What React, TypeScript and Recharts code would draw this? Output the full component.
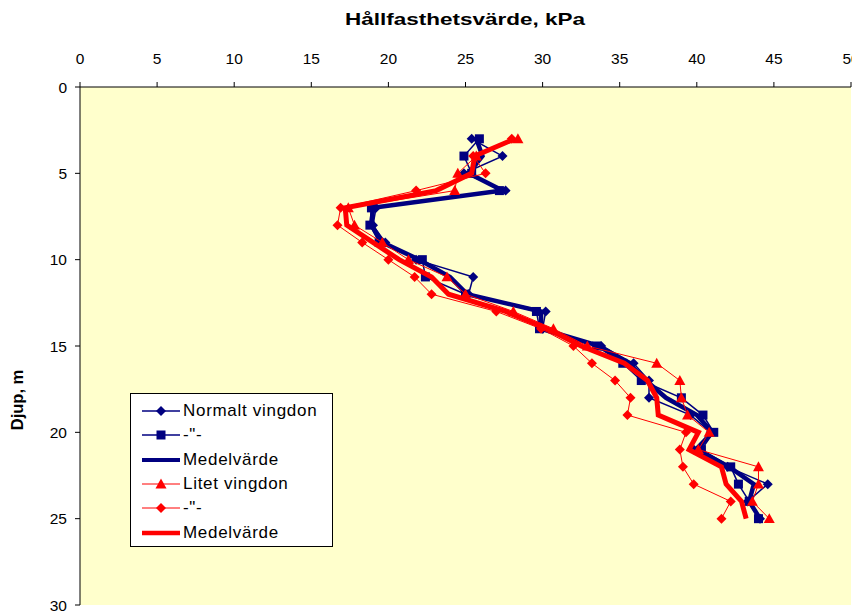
import React from 'react';
import { ScatterChart, Scatter, XAxis, YAxis, CartesianGrid, Legend } from 'recharts';

const depths = [3, 4, 5, 6, 7, 8, 9, 10, 11, 12, 13, 14, 15, 16, 17, 18, 19, 20, 21, 22, 23, 24, 25];

const normalDiamond = [25.4, 27.4, 24.9, 27.6, 19.2, 19.0, 19.8, 21.8, 25.5, 25.2, 30.2, 30.0, 33.8, 35.9, 36.9, 36.9, 39.6, 40.9, 39.8, 42.0, 44.6, 43.3, 44.1];
const normalSquare = [25.9, 24.9, 25.4, 27.2, 18.9, 18.8, 19.4, 22.2, 22.4, 25.0, 29.6, 29.8, 33.5, 35.2, 36.4, 39.0, 40.4, 41.1, 40.3, 42.2, 42.7, 43.4, 44.0];
const normalMean = [25.7, 26.1, 25.2, 27.4, 19.0, 18.9, 19.6, 22.0, 24.0, 25.1, 29.9, 29.9, 33.7, 35.6, 36.7, 38.0, 40.0, 41.0, 40.0, 42.1, 43.7, 43.4, 44.1];
const smallTriangle = [28.4, 25.7, 24.5, 24.3, 17.4, 17.8, 19.6, 21.3, 23.8, 25.0, 28.1, 30.7, 32.9, 37.4, 38.9, 39.0, 39.4, 40.8, 40.1, 44.0, 44.0, 43.6, 44.7];
const smallDiamond = [28.0, 25.5, 26.3, 21.8, 16.9, 16.7, 18.3, 20.0, 21.7, 22.8, 27.0, 29.9, 32.0, 33.2, 34.7, 35.7, 35.5, 39.3, 38.9, 39.1, 39.8, 42.2, 41.6];
const smallMean = [28.2, 25.6, 25.4, 23.1, 17.2, 17.3, 19.0, 20.7, 22.8, 23.9, 27.6, 30.3, 32.5, 35.3, 36.8, 37.4, 37.5, 40.1, 39.5, 41.6, 41.9, 42.9, 43.2];

const xTicks = [0, 5, 10, 15, 20, 25, 30, 35, 40, 45, 50];
const yTicks = [0, 5, 10, 15, 20, 25, 30];

const NAVY = '#000080';
const RED = '#FF0000';
const FONT = 'Arial, "Liberation Sans", sans-serif';

const toPoints = (values: number[]) => values.map((v, i) => ({ x: v, y: depths[i] }));

const diamond = (color: string, r: number) => (props: any) => {
  const { cx, cy } = props;
  return <path d={`M${cx},${cy - r}L${cx + r},${cy}L${cx},${cy + r}L${cx - r},${cy}Z`} fill={color} />;
};
const square = (color: string, r: number) => (props: any) => {
  const { cx, cy } = props;
  return <rect x={cx - r} y={cy - r} width={r * 2} height={r * 2} fill={color} />;
};
const triangle = (color: string, r: number) => (props: any) => {
  const { cx, cy } = props;
  return <path d={`M${cx},${cy - r}L${cx + r},${cy + r * 0.8}L${cx - r},${cy + r * 0.8}Z`} fill={color} />;
};
const noMarker = () => <g />;

const legendRows = [
  { name: 'Normalt vingdon', color: NAVY, width: 1.5, marker: 'diamond' },
  { name: '-"-', color: NAVY, width: 1.5, marker: 'square' },
  { name: 'Medelvärde', color: NAVY, width: 4, marker: '' },
  { name: 'Litet vingdon', color: RED, width: 1, marker: 'triangle' },
  { name: '-"-', color: RED, width: 1, marker: 'diamond' },
  { name: 'Medelvärde', color: RED, width: 4.5, marker: '' },
];

const LegendBox = () => (
  <div style={{ background: '#fff', border: '1px solid #000', width: 203, height: 154, boxSizing: 'border-box', paddingTop: 5, fontFamily: FONT }}>
    {legendRows.map((row, i) => (
      <div key={i} style={{ display: 'flex', alignItems: 'center', height: 24.3 }}>
        <svg width={40} height={16} style={{ marginLeft: 10 }}>
          <line x1={1} x2={39} y1={8} y2={8} stroke={row.color} strokeWidth={row.width} />
          {row.marker === 'diamond' && diamond(row.color, 5)({ cx: 20, cy: 8 })}
          {row.marker === 'square' && square(row.color, 4.5)({ cx: 20, cy: 8 })}
          {row.marker === 'triangle' && triangle(row.color, 5.5)({ cx: 20, cy: 8 })}
        </svg>
        <span style={{ fontSize: 17, letterSpacing: 0.7, marginLeft: 2, color: '#000' }}>{row.name}</span>
      </div>
    ))}
  </div>
);

const App = () => (
  <div style={{ marginLeft: -8, marginTop: -8 }}>
    <ScatterChart width={860} height={615} margin={{ top: 0, right: 9, bottom: 10, left: 0 }}>
      <CartesianGrid horizontal={false} vertical={false} fill="#FFFFCC" stroke="none" />
      <XAxis
        type="number"
        dataKey="x"
        orientation="top"
        domain={[0, 50]}
        ticks={xTicks}
        height={87}
        tickSize={5}
        tickMargin={18}
        axisLine={{ stroke: '#000' }}
        tickLine={{ stroke: '#000' }}
        tick={{ fill: '#000', fontSize: 15.5, fontFamily: FONT }}
        label={{
          content: () => (
            <text x={465} y={25} textAnchor="middle" fontFamily={FONT} fontWeight="bold" fontSize={16.5} textLength={240} lengthAdjust="spacingAndGlyphs" fill="#000">
              Hållfasthetsvärde, kPa
            </text>
          ),
        }}
      />
      <YAxis
        type="number"
        dataKey="y"
        reversed
        domain={[0, 30]}
        ticks={yTicks}
        width={80}
        tickSize={5}
        tickMargin={8}
        axisLine={{ stroke: '#000' }}
        tickLine={{ stroke: '#000' }}
        tick={{ fill: '#000', fontSize: 15.5, fontFamily: FONT }}
        label={{
          content: () => (
            <text transform="translate(17,400) rotate(-90)" textAnchor="middle" dominantBaseline="central" fontFamily={FONT} fontWeight="bold" fontSize={16.5} fill="#000">
              Djup, m
            </text>
          ),
        }}
      />
      <Legend
        layout="horizontal"
        verticalAlign="middle"
        align="center"
        content={() => <LegendBox />}
        wrapperStyle={{ left: 130, top: 393, width: 203, height: 154 }}
      />
      <Scatter name="Normalt vingdon" data={toPoints(normalDiamond)} line={{ stroke: NAVY, strokeWidth: 1.5 }} lineType="joint" shape={diamond(NAVY, 5)} isAnimationActive={false} />
      <Scatter name='-"-' data={toPoints(normalSquare)} line={{ stroke: NAVY, strokeWidth: 1.5 }} lineType="joint" shape={square(NAVY, 4.5)} isAnimationActive={false} />
      <Scatter name="Medelvärde" data={toPoints(normalMean)} line={{ stroke: NAVY, strokeWidth: 4.5 }} lineType="joint" shape={noMarker} isAnimationActive={false} />
      <Scatter name="Litet vingdon" data={toPoints(smallTriangle)} line={{ stroke: RED, strokeWidth: 1 }} lineType="joint" shape={triangle(RED, 5.5)} isAnimationActive={false} />
      <Scatter name='-"-' data={toPoints(smallDiamond)} line={{ stroke: RED, strokeWidth: 1 }} lineType="joint" shape={diamond(RED, 5)} isAnimationActive={false} />
      <Scatter name="Medelvärde" data={toPoints(smallMean)} line={{ stroke: RED, strokeWidth: 5 }} lineType="joint" shape={noMarker} isAnimationActive={false} />
    </ScatterChart>
  </div>
);

export default App;
